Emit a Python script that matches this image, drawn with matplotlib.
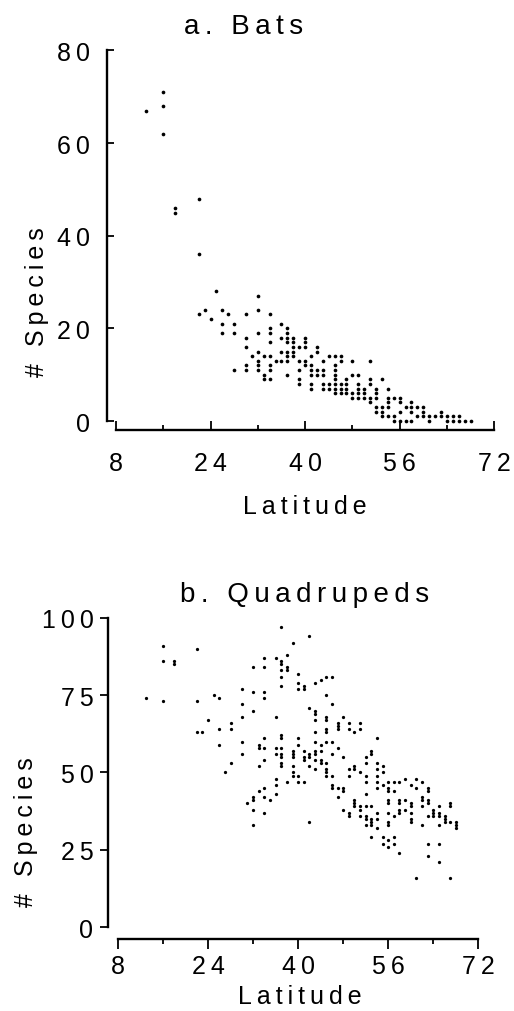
import matplotlib
matplotlib.use('Agg')
import matplotlib.pyplot as plt
from matplotlib.ticker import FixedLocator, MultipleLocator

plt.rcParams['font.family'] = ['Liberation Sans', 'DejaVu Sans']

# ---- panel a: bats (latitude, # species) ----
bats_lat = [13, 16, 16, 16, 18, 18, 22, 22,
            25, 32, 23, 22, 24, 26, 27, 26, 26, 28, 28, 30, 32, 32, 34, 34, 34, 34,
            30, 30, 31, 32, 32, 32, 32, 30, 30, 28, 33, 33, 33, 34, 34, 34, 34, 35,
            36, 36, 36, 36, 37, 37, 37, 37, 37, 37, 37, 37, 38, 38, 38, 38, 38,
            39, 39, 39, 39, 39, 40, 40, 40, 40, 40, 41, 41, 41, 41, 41, 41,
            42, 42, 42, 42, 43, 43, 43, 43, 43, 44, 44, 44,
            45, 45, 45, 45, 45, 45, 45, 45, 46, 46, 46, 46, 46, 47, 47, 47, 47,
            48, 48, 48, 48, 49, 49, 49, 49, 49, 50, 50, 50, 51, 51, 51, 51, 51,
            52, 52, 52, 52, 52, 53, 53, 53, 53, 54, 54, 54, 54, 54, 55, 55, 55,
            56, 56, 56, 56, 57, 57, 58, 58, 58, 58, 59, 59, 60, 60, 60, 61, 61,
            62, 63, 63, 64, 64, 65, 65, 66, 66, 67, 68]
bats_species = [67, 71, 68, 62, 46, 45, 48, 36,
                28, 27, 24, 23, 22, 24, 23, 21, 19, 21, 19, 23, 24, 19, 23, 20, 19, 17,
                18, 16, 14, 15, 13, 12, 11, 12, 11, 11, 14, 10, 9, 14, 12, 11, 9, 13,
                21, 18, 15, 13, 20, 19, 18, 17, 15, 14, 13, 10, 18, 17, 16, 15, 14,
                16, 13, 11, 9, 8, 18, 17, 16, 13, 12, 14, 12, 11, 10, 8, 7,
                16, 15, 11, 10, 13, 11, 10, 8, 7, 14, 8, 7,
                14, 12, 11, 10, 9, 8, 7, 6, 14, 13, 8, 7, 6, 9, 8, 7, 6,
                13, 10, 6, 5, 10, 8, 7, 6, 5, 7, 6, 5, 13, 9, 8, 5, 4,
                7, 6, 5, 3, 2, 9, 3, 2, 1, 7, 5, 4, 3, 1, 5, 1, 0,
                5, 4, 2, 0, 3, 0, 4, 3, 2, 0, 3, 1, 3, 2, 1, 1, 0,
                1, 2, 1, 1, 0, 1, 0, 1, 0, 0, 0]

# ---- panel b: quadrupeds ----
quad_lat = [13, 16, 16, 16, 18, 18, 22, 22, 22, 23, 24, 25, 26, 26, 26, 27, 28, 28, 28,
            30, 30, 30, 30, 30, 31, 32, 32, 32, 32, 32, 32, 32, 33, 33, 33, 33,
            34, 34, 34, 34, 34, 34, 34, 34, 34, 34, 35, 36, 36, 36, 36, 36, 36, 36,
            37, 37, 37, 37, 37, 37, 37, 37, 37, 37, 37, 37, 37, 38, 38, 38, 38,
            39, 39, 39, 39, 39, 39, 39, 40, 40, 40, 40, 40, 40, 40, 41, 41, 41, 41, 41, 41,
            42, 42, 42, 42, 42, 42, 43, 43, 43, 43, 43, 43, 43, 43, 43, 43,
            44, 44, 44, 44, 44, 45, 45, 45, 45, 45, 45, 45, 45, 45, 45, 45,
            46, 46, 46, 46, 46, 46, 46, 47, 47, 47, 47, 47, 47, 48, 48, 48, 48, 48,
            49, 49, 49, 49, 49, 49, 50, 50, 50, 50, 50, 50, 51, 51, 51, 51, 51, 51,
            52, 52, 52, 52, 52, 52, 52, 52, 52, 53, 53, 53, 53, 53, 53, 53,
            54, 54, 54, 54, 54, 54, 54, 54, 54, 55, 55, 55, 55, 55,
            56, 56, 56, 56, 56, 56, 56, 56, 56, 56, 57, 57, 57, 57, 57,
            58, 58, 58, 58, 58, 58, 59, 59, 59, 60, 60, 60, 60, 60, 60, 61, 61, 61,
            62, 62, 62, 62, 62, 63, 63, 63, 63, 63, 63, 63, 64, 64, 64,
            65, 65, 65, 65, 65, 65, 66, 66, 66, 67, 67, 67, 67, 68, 68, 68]
quad_species = [74, 91, 86, 73, 86, 85, 90, 73, 63, 63, 67, 75, 74, 64, 59, 50, 66, 64, 53,
                77, 72, 68, 60, 56, 40, 76, 70, 84, 42, 41, 38, 33, 59, 58, 52, 44,
                87, 84, 76, 74, 61, 58, 54, 45, 42, 37, 41, 87, 68, 58, 56, 48, 46, 43,
                97, 86, 85, 83, 81, 78, 62, 61, 58, 56, 55, 53, 52, 88, 84, 83, 47,
                92, 57, 56, 55, 52, 50, 49, 82, 79, 77, 61, 59, 49, 47, 78, 77, 57, 55, 54, 47,
                94, 71, 56, 55, 52, 34, 79, 70, 69, 67, 63, 60, 57, 56, 54, 51,
                80, 59, 57, 54, 53, 81, 75, 68, 67, 64, 63, 60, 53, 51, 50, 49,
                81, 72, 60, 56, 49, 46, 45, 66, 65, 64, 58, 45, 42, 68, 55, 45, 44, 38,
                66, 64, 51, 49, 37, 36, 63, 52, 51, 41, 40, 39, 66, 64, 50, 39, 38, 36,
                55, 53, 49, 47, 43, 39, 36, 35, 33, 57, 56, 39, 35, 34, 33, 29,
                61, 53, 51, 49, 47, 45, 37, 35, 32, 52, 50, 46, 29, 27,
                47, 45, 44, 41, 40, 37, 34, 33, 28, 26, 47, 44, 36, 29, 27,
                47, 41, 40, 38, 37, 24, 48, 41, 38, 46, 40, 39, 37, 35, 34, 48, 45, 16,
                47, 42, 41, 39, 33, 45, 44, 41, 40, 36, 27, 23, 38, 37, 36,
                39, 37, 36, 33, 27, 21, 36, 35, 34, 40, 39, 34, 16, 34, 33, 32]

x_ticks = [8, 24, 40, 56, 72]
bats_yticks = [0, 20, 40, 60, 80]
quad_yticks = [0, 25, 50, 75, 100]


def spaced(s):
    # the original typesetting has wide letter spacing
    return '\u2009'.join(s)


W, H = 514, 1012
fig = plt.figure(figsize=(W / 100, H / 100), dpi=100)

# axes rectangles in pixels: left, top, right, bottom
ax1 = fig.add_axes([107 / W, 1 - 431 / H, (496 - 107) / W, (431 - 50) / H])
ax2 = fig.add_axes([108 / W, 1 - 940 / H, (480 - 108) / W, (940 - 618) / H])

ax1.scatter(bats_lat, bats_species, s=7, c='black', linewidths=0)
ax2.scatter(quad_lat, quad_species, s=5.5, c='black', linewidths=0)

ax1.set_xlim(6.48, 72.3)
ax1.set_ylim(-1.94, 80.3)
ax2.set_xlim(6.23, 72.3)
ax2.set_ylim(-3.87, 100.3)

for ax, yt in [(ax1, bats_yticks), (ax2, quad_yticks)]:
    for side in ['top', 'right']:
        ax.spines[side].set_visible(False)
    ax.spines['left'].set_linewidth(1.7)
    ax.spines['bottom'].set_linewidth(1.7)
    ax.spines['left'].set_bounds(yt[0], yt[-1])
    ax.spines['bottom'].set_bounds(x_ticks[0], x_ticks[-1])
    ax.xaxis.set_major_locator(FixedLocator(x_ticks))
    ax.xaxis.set_minor_locator(MultipleLocator(8))
    ax.yaxis.set_major_locator(FixedLocator(yt))
    ax.set_xticklabels([spaced(str(v)) for v in x_ticks])
    ax.set_yticklabels([spaced(str(v)) for v in yt])
    ax.tick_params(axis='both', which='both', labelsize=18, width=1.3)

ax1.tick_params(axis='x', which='major', direction='in', length=6.5, pad=15)
ax1.tick_params(axis='x', which='minor', direction='in', length=3.5)
ax1.tick_params(axis='y', which='major', direction='in', length=5, pad=12)

ax2.tick_params(axis='x', which='major', direction='out', length=7, pad=4)
ax2.tick_params(axis='x', which='minor', direction='out', length=3.5)
ax2.tick_params(axis='y', which='major', direction='out', length=5.5, pad=5)

fig.text(244 / W, 1 - 27 / H, spaced('a. Bats'), fontsize=20, ha='center', va='center')
fig.text(305 / W, 1 - 595 / H, spaced('b. Quadrupeds'), fontsize=20, ha='center', va='center')

fig.text(37 / W, 1 - 302 / H, spaced('# Species'), fontsize=18, rotation=90,
         ha='center', va='center')
fig.text(26 / W, 1 - 832 / H, spaced('# Species'), fontsize=18, rotation=90,
         ha='center', va='center')
fig.text(305 / W, 1 - 507 / H, spaced('Latitude'), fontsize=18, ha='center', va='center')
fig.text(300 / W, 1 - 997 / H, spaced('Latitude'), fontsize=18, ha='center', va='center')

fig.savefig('out.png', dpi=100)
